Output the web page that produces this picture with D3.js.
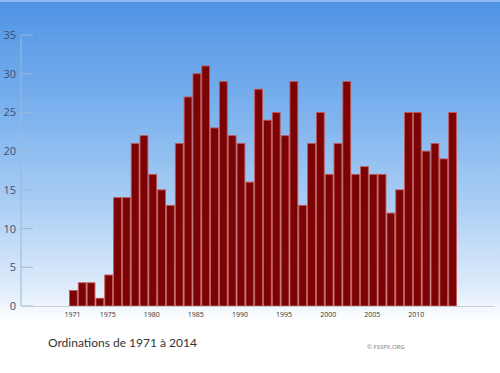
<html>
<head>
<meta charset="utf-8">
<script src="https://d3js.org/d3.v7.min.js"></script>
<style>
body { margin:0; padding:0; background:#fff; }
</style>
</head>
<body>
<div id="chart"></div>
<script>
var years = [1971,1972,1973,1974,1975,1976,1977,1978,1979,1980,
             1981,1982,1983,1984,1985,1986,1987,1988,1989,1990,
             1991,1992,1993,1994,1995,1996,1997,1998,1999,2000,
             2001,2002,2003,2004,2005,2006,2007,2008,2009,2010,
             2011,2012,2013,2014];
var ordinations = [2,3,3,1,4,14,14,21,22,17,
                   15,13,21,27,30,31,23,29,22,21,
                   16,28,24,25,22,29,13,21,25,17,
                   21,29,17,18,17,17,12,15,25,25,
                   20,21,19,25];
var yTicks = [0,5,10,15,20,25,30,35];
var xTicks = [1971,1975,1980,1985,1990,1995,2000,2005,2010];

var width = 500, height = 373;
var svg = d3.select("#chart").append("svg")
    .attr("width", width)
    .attr("height", height);

// background gradient
var grad = svg.append("defs").append("linearGradient")
    .attr("id","bg").attr("x1",0).attr("y1",0).attr("x2",0).attr("y2",1);
grad.append("stop").attr("offset","0%").attr("stop-color","#4f93e4");
grad.append("stop").attr("offset","30%").attr("stop-color","#7cb2ee");
grad.append("stop").attr("offset","55%").attr("stop-color","#abcef4");
grad.append("stop").attr("offset","78%").attr("stop-color","#e0edfb");
grad.append("stop").attr("offset","86%").attr("stop-color","#ffffff");
grad.append("stop").attr("offset","100%").attr("stop-color","#ffffff");
svg.append("rect").attr("width",width).attr("height",height).attr("fill","url(#bg)");
svg.append("rect").attr("width",width).attr("height",2).attr("fill","#8fbcef");

var x = d3.scaleBand().domain(years).range([69, 457]).padding(0);
var y = d3.scaleLinear().domain([0, 35]).range([306, 35]);

// y axis line and ticks
svg.append("line")
    .attr("x1",21).attr("x2",21).attr("y1",y(35)).attr("y2",y(0))
    .attr("stroke","#9db8d6").attr("stroke-width",1);
svg.selectAll(".ytick").data(yTicks).enter().append("line")
    .attr("x1",21).attr("x2",33)
    .attr("y1",function(d){return y(d)}).attr("y2",function(d){return y(d)})
    .attr("stroke","#9db8d6").attr("stroke-width",1);
svg.selectAll(".ylab").data(yTicks).enter().append("text")
    .attr("x",16).attr("y",function(d){return y(d)+4})
    .attr("text-anchor","end")
    .style("font-family","Open Sans, sans-serif")
    .style("font-size","11px")
    .style("fill","#3a4f74")
    .text(function(d){return d});

// bars
svg.selectAll(".bar").data(ordinations).enter().append("rect")
    .attr("x", function(d,i){ return x(years[i]) + 0.5; })
    .attr("y", function(d){ return y(d); })
    .attr("width", x.bandwidth() - 1)
    .attr("height", function(d){ return y(0) - y(d); })
    .attr("fill", "#7c0303")
    .attr("stroke", "#c25a5a")
    .attr("stroke-width", 0.9);

// baseline
svg.append("line")
    .attr("x1",21).attr("x2",495).attr("y1",y(0)+0.5).attr("y2",y(0)+0.5)
    .attr("stroke","#c9ced6").attr("stroke-width",1);

// x labels
svg.selectAll(".xlab").data(xTicks).enter().append("text")
    .attr("x", function(d){ return x(d) + x.bandwidth()/2 - 1; })
    .attr("y", 317)
    .attr("text-anchor","middle")
    .style("font-family","Open Sans, sans-serif")
    .style("font-size","7px")
    .style("fill","#333")
    .text(function(d){return d});

svg.append("text")
    .attr("x",48).attr("y",347)
    .style("font-family","Lato, sans-serif")
    .style("font-size","12px")
    .style("fill","#333")
    .text("Ordinations de 1971 à 2014");

svg.append("text")
    .attr("x",367).attr("y",349)
    .style("font-family","Open Sans, sans-serif")
    .style("font-size","6px")
    .style("fill","#777")
    .text("© FSSPX.ORG");
</script>
</body>
</html>
